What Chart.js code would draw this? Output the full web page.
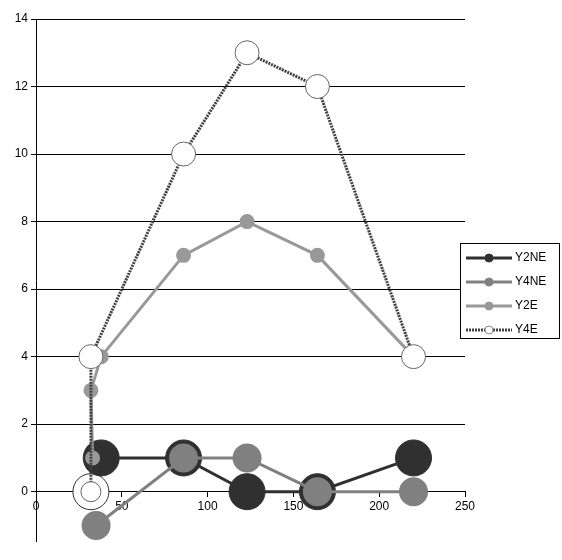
<!DOCTYPE html>
<html>
<head>
<meta charset="utf-8">
<script src="https://cdn.jsdelivr.net/npm/chart.js@4"></script>
<style>
  html, body { margin: 0; padding: 0; background: #fff; }
  #wrap { width: 562px; height: 560px; }
</style>
</head>
<body>
<div id="wrap"><canvas id="chart"></canvas></div>
<script>
// values
const labels = ['Y2NE', 'Y4NE', 'Y2E', 'Y4E'];
const y2neX = [32, 38, 86, 123, 164, 220];
const y2neY = [0, 1, 1, 0, 0, 1];
const y4neX = [35, 86, 123, 164, 220];
const y4neY = [-1, 1, 1, 0, 0];
const y2eX = [33, 32, 38, 86, 123, 164, 220];
const y2eY = [1, 3, 4, 7, 8, 7, 4];
const y4eX = [32, 32, 86, 123, 164, 220];
const y4eY = [0, 4, 10, 13, 12, 4];
const yTicks = [0, 2, 4, 6, 8, 10, 12, 14];

const pts = (xs, ys) => xs.map((x, i) => ({ x: x, y: ys[i] }));

const legendBox = {
  id: 'legendBox',
  afterDraw(chart) {
    const ctx = chart.ctx;
    const x0 = 460, y0 = 243, w = 99, h = 95;
    ctx.save();
    ctx.fillStyle = '#fff';
    ctx.fillRect(x0, y0, w, h);
    ctx.strokeStyle = '#000';
    ctx.lineWidth = 1;
    ctx.strokeRect(x0 + 0.5, y0 + 0.5, w, h);
    ctx.font = '12px Arial, "Liberation Sans", sans-serif';
    ctx.textBaseline = 'middle';
    chart.data.datasets.forEach((ds, i) => {
      const y = y0 + 15 + i * 24;
      ctx.strokeStyle = ds.borderColor;
      ctx.lineWidth = 3;
      ctx.setLineDash(ds.borderDash || []);
      ctx.beginPath();
      ctx.moveTo(x0 + 6, y);
      ctx.lineTo(x0 + 52, y);
      ctx.stroke();
      ctx.setLineDash([]);
      ctx.beginPath();
      ctx.arc(x0 + 29, y, 4, 0, Math.PI * 2);
      ctx.fillStyle = ds.legendFill;
      ctx.fill();
      ctx.lineWidth = 1;
      ctx.strokeStyle = ds.legendEdge;
      ctx.stroke();
      ctx.fillStyle = '#000';
      ctx.fillText(ds.label, x0 + 55, y);
    });
    ctx.restore();
  }
};

new Chart(document.getElementById('chart'), {
  type: 'line',
  data: {
    datasets: [
      {
        label: labels[0], data: pts(y2neX, y2neY), order: 4,
        borderColor: '#303030', borderWidth: 3,
        pointRadius: 18, pointBorderWidth: 1,
        pointBackgroundColor: ['#fff', '#303030', '#303030', '#303030', '#303030', '#303030'],
        pointBorderColor: '#303030',
        legendFill: '#303030', legendEdge: '#303030'
      },
      {
        label: labels[1], data: pts(y4neX, y4neY), order: 3,
        borderColor: '#808080', borderWidth: 3,
        pointRadius: 13, pointBackgroundColor: '#808080', pointBorderColor: '#808080',
        legendFill: '#808080', legendEdge: '#808080'
      },
      {
        label: labels[2], data: pts(y2eX, y2eY), order: 2,
        borderColor: '#999', borderWidth: 3,
        pointRadius: 6, pointBackgroundColor: '#999', pointBorderColor: '#999',
        legendFill: '#999', legendEdge: '#999'
      },
      {
        label: labels[3], data: pts(y4eX, y4eY), order: 1,
        borderColor: '#404040', borderWidth: 3, borderDash: [2, 1],
        pointRadius: [10, 12, 12, 12, 12, 12], pointBorderWidth: 1,
        pointBackgroundColor: '#fff', pointBorderColor: '#666',
        legendFill: '#fff', legendEdge: '#888'
      }
    ]
  },
  options: {
    responsive: true,
    maintainAspectRatio: false,
    animation: false,
    layout: { padding: { top: 2, right: 97, bottom: 0, left: 0 } },
    plugins: { legend: { display: false }, tooltip: { enabled: false } },
    scales: {
      x: {
        type: 'linear', min: 0, max: 250,
        position: { y: 0 },
        afterFit: (axis) => { axis.height = 0; },
        ticks: { stepSize: 50, color: '#000', font: { size: 12, family: 'Arial, "Liberation Sans", sans-serif' } },
        grid: { drawOnChartArea: false, color: '#000', tickLength: 5 },
        border: { color: '#000', width: 1 }
      },
      y: {
        type: 'linear', min: -1.46, max: 14,
        afterBuildTicks: (axis) => { axis.ticks = yTicks.map(v => ({ value: v })); },
        afterFit: (axis) => { axis.width = 36; },
        ticks: { color: '#000', font: { size: 12, family: 'Arial, "Liberation Sans", sans-serif' } },
        grid: { color: '#000', tickLength: 5 },
        border: { color: '#000', width: 1 }
      }
    }
  },
  plugins: [legendBox]
});
</script>
</body>
</html>
